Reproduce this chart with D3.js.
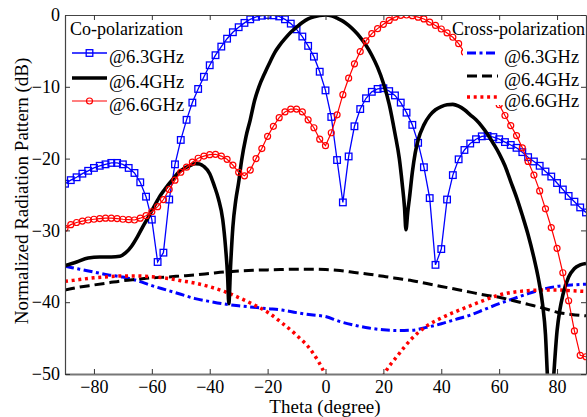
<!DOCTYPE html>
<html>
<head>
<meta charset="utf-8">
<script src="https://cdn.jsdelivr.net/npm/d3@7"></script>
<style>
body { margin: 0; background: #fff; }
svg text { font-family: "Liberation Serif", "Times New Roman", "DejaVu Serif", serif; fill: #000; }
</style>
</head>
<body>
<svg id="chart" width="587" height="417"></svg>
<script>
// theta grid for the marker curves (2 degree steps)
var thetaCo = d3.range(-90, 91, 2);

var co63 = [-23.5,-23.0,-22.6,-22.1,-21.7,-21.3,-21.0,-20.8,-20.6,-20.6,-20.8,-21.3,-22.0,-23.3,-25.3,-28.5,-34.4,-33.1,-25.7,-20.8,-17.4,-14.6,
    -12.2,-10.3,-8.6,-7.0,-5.6,-4.4,-3.3,-2.4,-1.7,-1.1,-0.6,-0.25,-0.1,0,-0.05,-0.2,-0.6,-1.2,-2.0,-3.0,-4.3,-5.8,-7.9,-10.5,
    -14.2,-20.2,-26.1,-19.7,-15.5,-13.1,-11.6,-10.7,-10.3,-10.2,-10.6,-11.2,-12.2,-13.6,-15.3,-17.8,-21.2,-25.5,-34.8,-32.6,-25.7,-22.3,-20.1,-18.8,-17.9,
    -17.3,-16.9,-16.85,-17.0,-17.3,-17.7,-18.1,-18.5,-19.1,-19.8,-20.4,-21.0,-21.8,-22.5,-23.4,-24.3,-25.2,-26.0,-26.8,-27.5];

var co66 = [-29.7,-29.2,-28.9,-28.7,-28.55,-28.45,-28.35,-28.3,-28.3,-28.35,-28.45,-28.5,-28.55,-28.3,-27.95,-27.4,-26.7,-25.7,-24.3,-23.0,-21.9,-21.2,
    -20.5,-19.95,-19.65,-19.45,-19.4,-19.65,-20.1,-20.9,-21.9,-22.4,-21.6,-20.0,-18.6,-16.9,-15.5,-14.3,-13.5,-13.1,-13.1,-13.5,-14.6,-15.7,-17.3,-18.2,
    -16.4,-13.9,-11.1,-8.8,-6.8,-5.1,-3.6,-2.6,-1.9,-1.3,-0.75,-0.3,-0.05,0,-0.1,-0.3,-0.55,-1.0,-1.45,-1.95,-2.5,-3.1,-4.0,-5.2,-6.4,
    -7.6,-8.8,-10.0,-11.2,-12.5,-14.0,-15.4,-16.8,-18.5,-20.4,-22.3,-24.5,-27.0,-29.6,-32.5,-35.9,-39.8,-44.0,-47.4,-47.6];

// 6.4 GHz co-pol (solid, no markers)
var thetaBlack = [-90,-86,-82,-78,-74,-71,-69,-67,-65,-63,-61,-59,-57,-55,-53,-51,-49,-47,-45,-43.5,-42,-40,-38.5,-37,-35.5,-34.5,-33.8,-33.4,
    -32.8,-32,-31,-30,-29,-27.5,-26,-24.5,-23,-21,-19,-17.5,-16,-14,-12,-10,-8,-6,-4,-2,0,2,4,6,8,10,12,14,16,18,20,22,24,25.5,26.5,27.3,27.8,
    28.4,29,30,31,32,34,36,38,40,42,44,46,48,50,52,54,56,58,60,62,64,66,68,70,72,73.5,75,76,76.7,77.7,78.8,80,81,82,84,86,88,90];
var co64 = [-34.9,-34.4,-33.85,-33.7,-33.7,-33.6,-33.1,-32.2,-30.9,-29.4,-28.0,-26.5,-25.1,-24.0,-23.0,-22.0,-21.4,-21.0,-20.7,-20.75,-21.1,-22.1,-23.7,-25.6,-28.5,-32.5,-36.5,-40.2,
    -35,-29.5,-25.8,-23.3,-20.3,-17.0,-14.6,-11.9,-10.0,-8.1,-6.4,-5.2,-4.3,-3.3,-2.4,-1.7,-1.05,-0.55,-0.25,-0.05,0,-0.1,-0.45,-0.85,-1.45,-2.2,-3.1,-4.2,-5.6,-7.3,-9.5,-12.4,-16.5,-20.0,-23.5,-26.8,-29.9,
    -27.5,-25.5,-21.9,-19.2,-17.4,-15.3,-14.0,-13.2,-12.75,-12.5,-12.45,-12.7,-13.2,-13.9,-14.6,-15.5,-16.6,-17.9,-19.3,-21.0,-23.2,-25.4,-27.9,-30.6,-33.8,-36.6,-40.3,-44.5,-50.5,-57,-50.5,-44.0,-41.0,-39.0,-36.5,-35.3,-34.8,-34.6];

// cross-polarization (5 degree steps)
var thetaCross = d3.range(-90, 91, 5);
var cross63 = [-35.0,-35.4,-35.8,-36.2,-36.5,-37.0,-37.7,-38.3,-38.9,-39.5,-39.9,-40.25,-40.5,-40.7,-40.9,-41.1,-41.45,-41.75,-42.0,
    -42.7,-43.2,-43.6,-43.85,-43.95,-43.9,-43.5,-43.0,-42.4,-41.8,-41.0,-40.2,-39.5,-38.8,-38.2,-37.8,-37.6,-37.5];
var cross64 = [-38.3,-37.9,-37.6,-37.3,-37.0,-36.8,-36.6,-36.5,-36.35,-36.2,-36.0,-35.8,-35.65,-35.55,-35.5,-35.45,-35.4,-35.4,-35.45,
    -35.6,-35.85,-36.1,-36.4,-36.7,-37.0,-37.4,-37.8,-38.2,-38.6,-39.0,-39.3,-39.8,-40.3,-40.8,-41.4,-41.7,-41.9];
var cross66 = [-37.1,-36.85,-36.6,-36.45,-36.35,-36.35,-36.45,-36.65,-37.0,-37.35,-37.85,-38.5,-39.35,-40.3,-41.4,-42.9,-44.6,-46.7,-50.2,
    -56,-60,-56,-50.3,-47.4,-45.0,-43.3,-42.2,-41.3,-40.5,-39.7,-39.0,-38.6,-38.4,-38.3,-38.3,-38.4,-38.5];

var xTicks = [-80,-60,-40,-20,0,20,40,60,80];
var yTicks = [-50,-40,-30,-20,-10,0];
var freqLabels = ["@6.3GHz","@6.4GHz","@6.6GHz"];

var serif = "'Liberation Serif', 'Times New Roman', 'DejaVu Serif', serif";
var svg = d3.select("#chart");

var x = d3.scaleLinear().domain([-90, 90]).range([65, 586]);
var y = d3.scaleLinear().domain([-50, 0]).range([374, 15]);

svg.append("defs").append("clipPath")
    .attr("id", "plot")
    .append("rect")
    .attr("x", 65).attr("y", 15)
    .attr("width", 521).attr("height", 359);

var plot = svg.append("g").attr("clip-path", "url(#plot)");

function pairs(t, v) {
    return t.map(function(d, i){ return [d, v[i]]; });
}

var smooth = d3.line()
    .x(function(d){ return x(d[0]); })
    .y(function(d){ return y(d[1]); })
    .curve(d3.curveMonotoneX);

var straight = d3.line()
    .x(function(d){ return x(d[0]); })
    .y(function(d){ return y(d[1]); });

// cross-pol lines
plot.append("path")
    .attr("d", smooth(pairs(thetaCross, cross63)))
    .attr("fill", "none")
    .attr("stroke", "#0000ff")
    .attr("stroke-width", 3)
    .attr("stroke-dasharray", "9,3.5,3,3.5");

plot.append("path")
    .attr("d", smooth(pairs(thetaCross, cross64)))
    .attr("fill", "none")
    .attr("stroke", "#000")
    .attr("stroke-width", 3)
    .attr("stroke-dasharray", "10,5");

plot.append("path")
    .attr("d", smooth(pairs(thetaCross, cross66)))
    .attr("fill", "none")
    .attr("stroke", "#ff0000")
    .attr("stroke-width", 3.5)
    .attr("stroke-dasharray", "3,3.7");

// co-pol 6.3 GHz
plot.append("path")
    .attr("d", straight(pairs(thetaCo, co63)))
    .attr("fill", "none")
    .attr("stroke", "#0000ff")
    .attr("stroke-width", 1.3);

plot.selectAll(".sq")
    .data(pairs(thetaCo, co63))
    .enter().append("rect")
    .attr("class", "sq")
    .attr("x", function(d){ return x(d[0]) - 3.3; })
    .attr("y", function(d){ return y(d[1]) - 3.3; })
    .attr("width", 6.6)
    .attr("height", 6.6)
    .attr("fill", "none")
    .attr("stroke", "#0000ff")
    .attr("stroke-width", 1.3);

// co-pol 6.4 GHz
plot.append("path")
    .attr("d", smooth(pairs(thetaBlack, co64)))
    .attr("fill", "none")
    .attr("stroke", "#000")
    .attr("stroke-width", 3.6);

// co-pol 6.6 GHz
plot.append("path")
    .attr("d", straight(pairs(thetaCo, co66)))
    .attr("fill", "none")
    .attr("stroke", "#ff0000")
    .attr("stroke-width", 1.2);

plot.selectAll(".ci")
    .data(pairs(thetaCo, co66))
    .enter().append("circle")
    .attr("class", "ci")
    .attr("cx", function(d){ return x(d[0]); })
    .attr("cy", function(d){ return y(d[1]); })
    .attr("r", 3)
    .attr("fill", "none")
    .attr("stroke", "#ff0000")
    .attr("stroke-width", 1.2);

// legends
var legL = svg.append("g");
legL.append("text").text("Co-polarization").attr("x", 70).attr("y", 35).style("font-size", "18px");
var lyL = [53, 78, 101];

legL.append("line").attr("x1", 72).attr("x2", 107).attr("y1", lyL[0]).attr("y2", lyL[0])
    .attr("stroke", "#0000ff").attr("stroke-width", 1.3);
legL.append("rect").attr("x", 86.2).attr("y", lyL[0] - 3.3).attr("width", 6.6).attr("height", 6.6)
    .attr("fill", "none").attr("stroke", "#0000ff").attr("stroke-width", 1.3);
legL.append("line").attr("x1", 72).attr("x2", 107).attr("y1", lyL[1]).attr("y2", lyL[1])
    .attr("stroke", "#000").attr("stroke-width", 3.6);
legL.append("line").attr("x1", 72).attr("x2", 107).attr("y1", lyL[2]).attr("y2", lyL[2])
    .attr("stroke", "#ff0000").attr("stroke-width", 1.2);
legL.append("circle").attr("cx", 89.5).attr("cy", lyL[2]).attr("r", 3)
    .attr("fill", "none").attr("stroke", "#ff0000").attr("stroke-width", 1.2);
freqLabels.forEach(function(t, i){
    legL.append("text").text(t).attr("x", 109).attr("y", lyL[i] + 10).style("font-size", "18.5px");
});

var legR = svg.append("g");
legR.append("rect").attr("x", 463).attr("y", 42).attr("width", 123).attr("height", 63).attr("fill", "#fff");
legR.append("text").text("Cross-polarization").attr("x", 452).attr("y", 35).style("font-size", "18px");
var lyR = [53, 76, 97];
var crossStyles = [
    { c: "#0000ff", w: 3, dash: "9,3.5,3,3.5" },
    { c: "#000", w: 3, dash: "10,5" },
    { c: "#ff0000", w: 3.5, dash: "3,3.7" }
];
crossStyles.forEach(function(s, i){
    legR.append("line").attr("x1", 467).attr("x2", 498).attr("y1", lyR[i]).attr("y2", lyR[i])
        .attr("stroke", s.c).attr("stroke-width", s.w).attr("stroke-dasharray", s.dash);
    legR.append("text").text(freqLabels[i]).attr("x", 504).attr("y", lyR[i] + 10).style("font-size", "18.5px");
});

// axes
var axB = svg.append("g").attr("transform", "translate(0,374)")
    .call(d3.axisBottom(x).tickValues(xTicks).tickSizeInner(-5).tickSizeOuter(0).tickPadding(6));
var axL = svg.append("g").attr("transform", "translate(65,0)")
    .call(d3.axisLeft(y).tickValues(yTicks).tickSizeInner(-5).tickSizeOuter(0).tickPadding(5));
var axT = svg.append("g").attr("transform", "translate(0,15)")
    .call(d3.axisTop(x).tickValues(xTicks).tickSizeInner(-5).tickSizeOuter(0).tickFormat(""));
var axR = svg.append("g").attr("transform", "translate(586,0)")
    .call(d3.axisRight(y).tickValues(yTicks).tickSizeInner(-5).tickSizeOuter(0).tickFormat(""));

[axB, axL, axT, axR].forEach(function(g){
    g.attr("font-family", serif);
    g.selectAll("text").style("font-size", "18px").style("font-family", serif);
    g.selectAll("line").attr("stroke", "#333");
    g.select(".domain").attr("stroke", "#444").attr("stroke-width", 1.2);
});
axB.select(".domain").attr("stroke", "#777").attr("stroke-width", 1.8);

svg.append("text")
    .text("Theta (degree)")
    .attr("x", 325).attr("y", 413)
    .attr("text-anchor", "middle")
    .style("font-size", "19px");

svg.append("text")
    .text("Normalized Radiation Pattern (dB)")
    .attr("transform", "translate(28,191) rotate(-90)")
    .attr("text-anchor", "middle")
    .style("font-size", "19px");
</script>
</body>
</html>
